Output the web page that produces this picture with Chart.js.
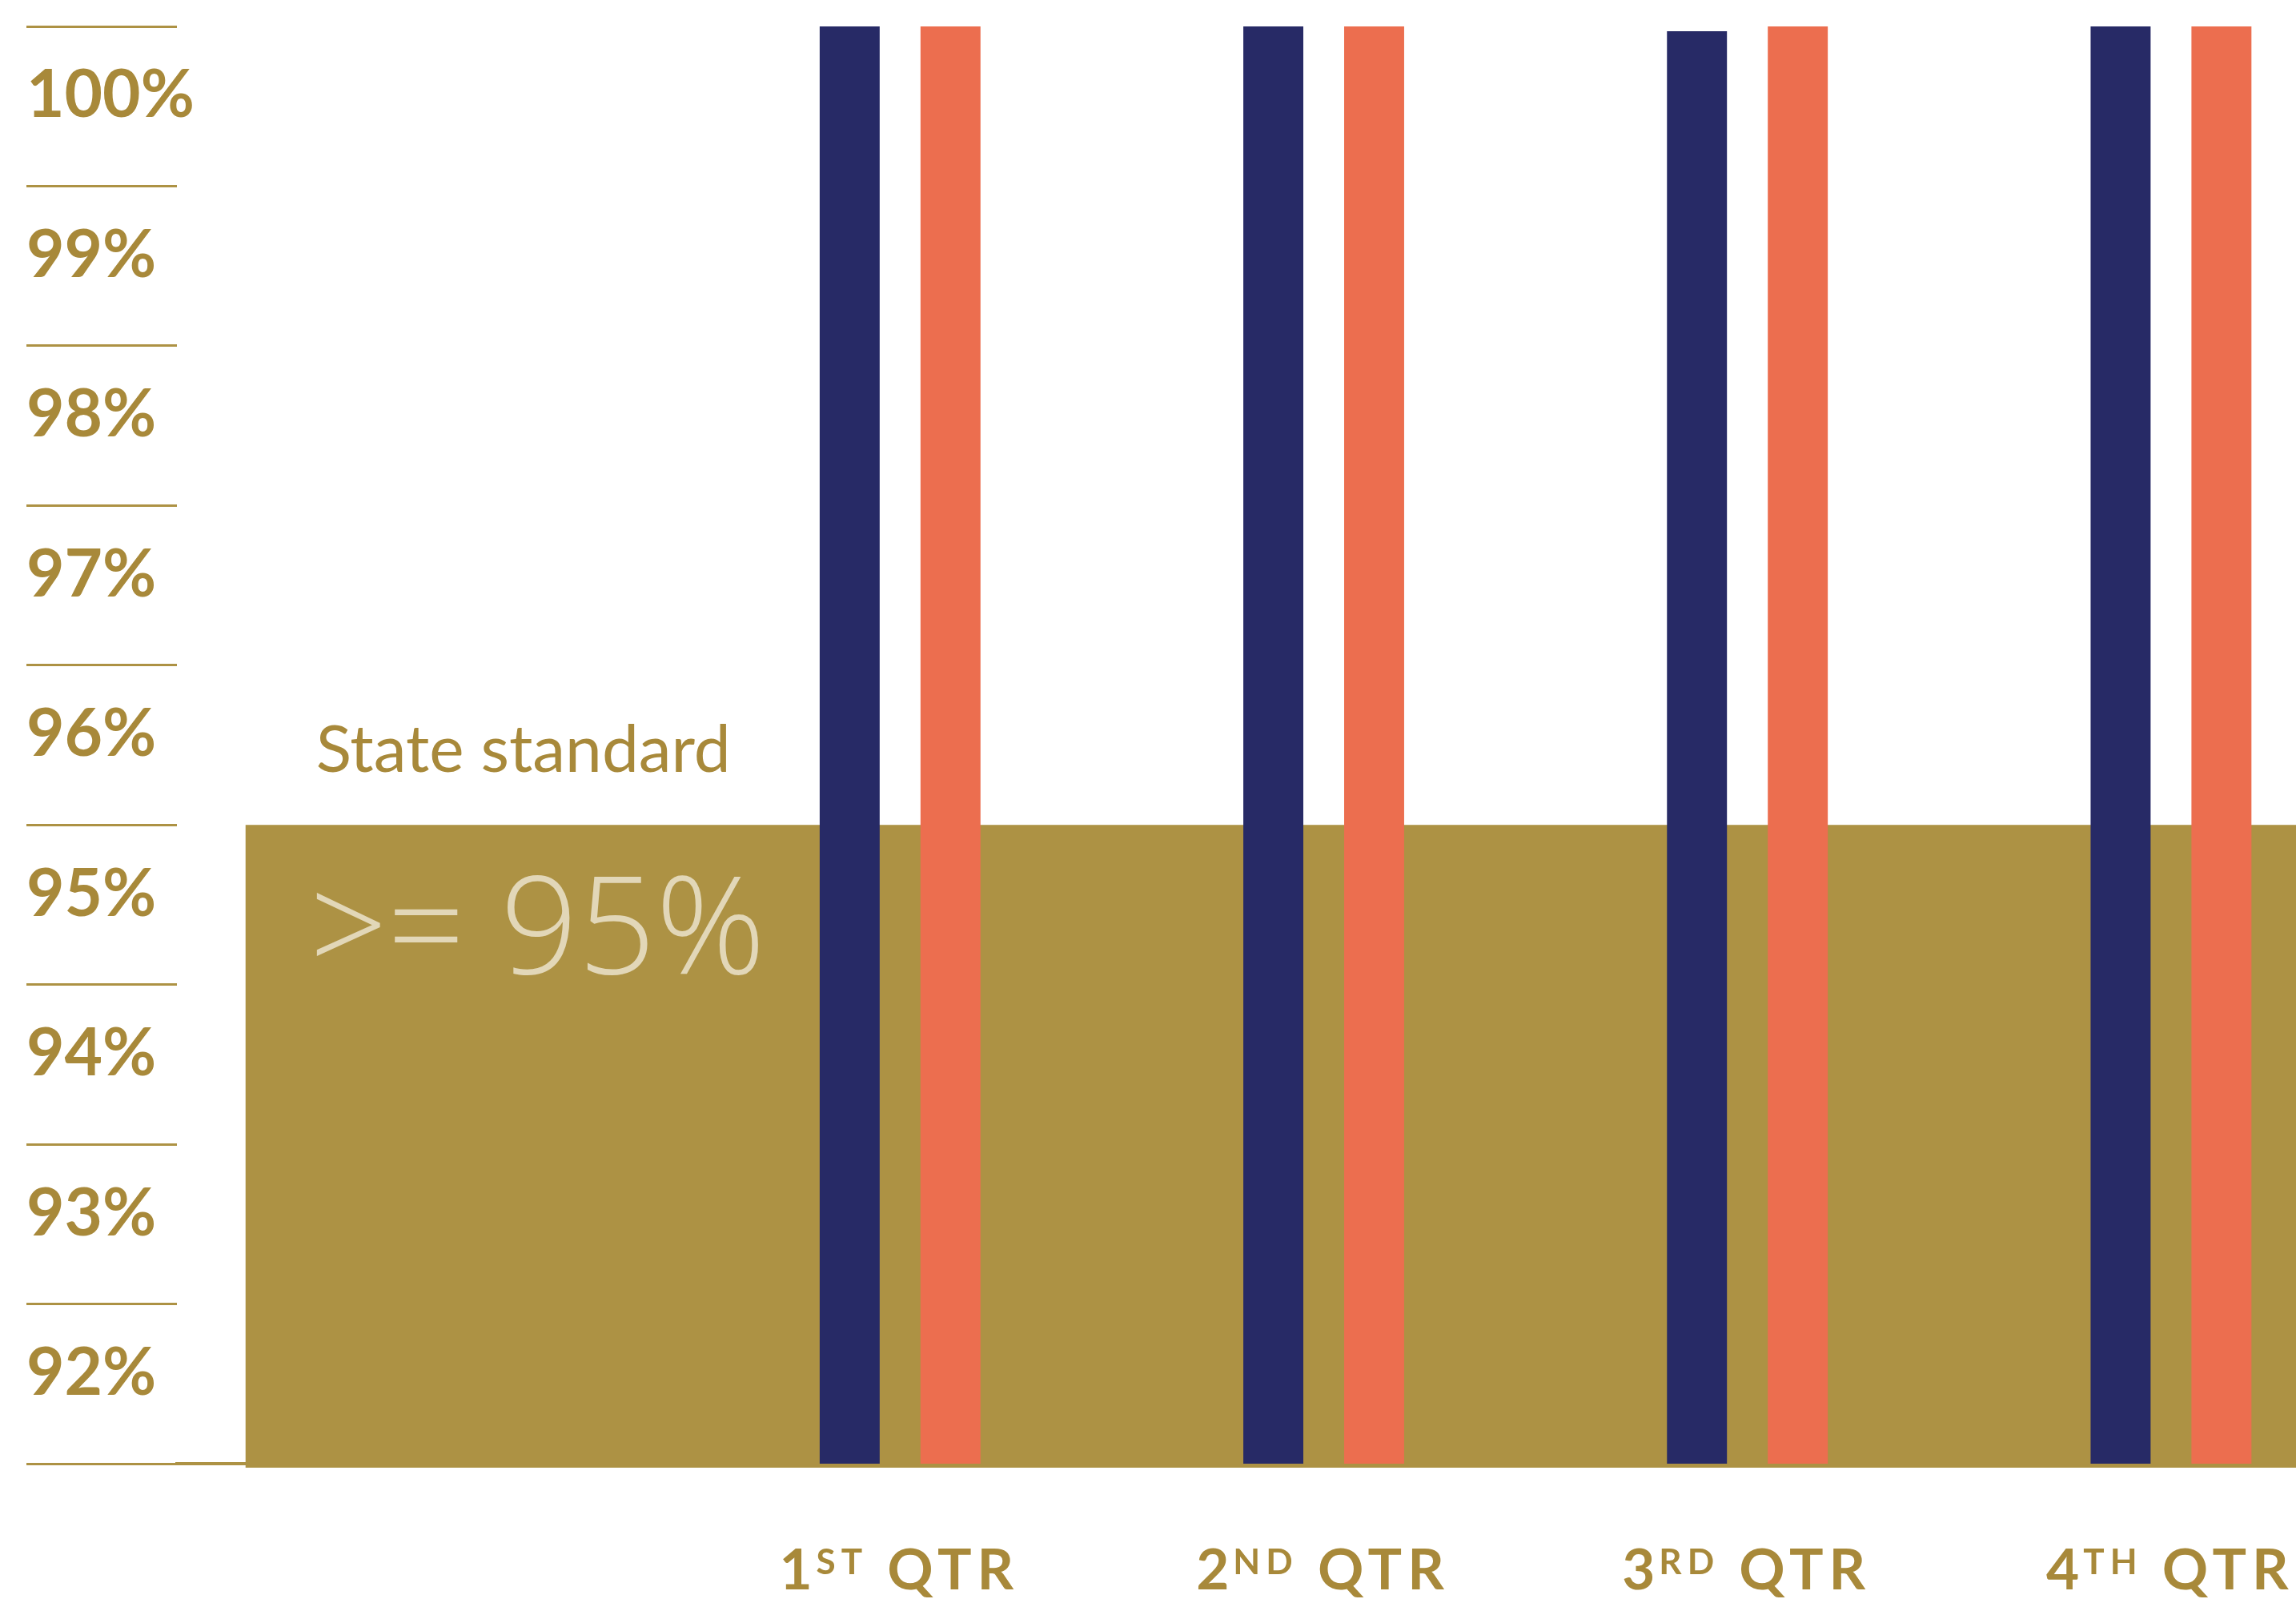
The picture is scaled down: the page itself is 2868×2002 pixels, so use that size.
<!DOCTYPE html>
<html>
<head>
<meta charset="utf-8">
<title>Quarterly results vs state standard</title>
<script src="https://cdn.jsdelivr.net/npm/chart.js@4.4.1/dist/chart.umd.min.js"></script>
<style>
  html, body { margin: 0; padding: 0; background: #fff; overflow: hidden; }
  #wrap { width: 2868px; height: 2002px; position: relative; }
</style>
</head>
<body>
<div id="wrap"><canvas id="chart"></canvas></div>
<script>
// data
const quarterNumbers = ["1", "2", "3", "4"];
const quarterSuffixes = ["ST", "ND", "RD", "TH"];
const quarterWord = "QTR";
const seriesNavy = [100, 100, 99.97, 100];
const seriesOrange = [100, 100, 100, 100];
const stateStandard = 95;
const standardLabel = "State standard";
const standardValueLabel = ">= 95%";

const gold = "#ad9244";
const textGold = "#a8893a";
const navy = "#272a66";
const orange = "#ec6e4f";
const lightText = "#e2d7b8";

const toPoints = (values) => values.map((v, i) => ({ x: i + 1, y: v }));

// gold block for the state standard, with its captions
const standardBox = {
  id: "standardBox",
  beforeDatasetsDraw(chart) {
    const { ctx, chartArea, scales: { x, y } } = chart;
    const left = x.getPixelForValue(-0.545);
    const top = y.getPixelForValue(stateStandard);
    const bottom = y.getPixelForValue(y.min) + 5;
    ctx.save();
    ctx.fillStyle = gold;
    ctx.fillRect(left, top, chartArea.right - left, bottom - top);
    ctx.textBaseline = "alphabetic";
    ctx.textAlign = "left";
    ctx.font = "400 82px Lato";
    ctx.fillStyle = textGold;
    ctx.fillText(standardLabel, left + 88, top - 66);
    ctx.font = "300 170px 'Open Sans'";
    ctx.fillStyle = lightText;
    ctx.fillText(standardValueLabel, left + 80, top + 186);
    ctx.restore();
  },
};

// x labels with the superscript suffix
const quarterLabels = {
  id: "quarterLabels",
  afterDraw(chart) {
    const { ctx, scales: { x } } = chart;
    const base = x.top + 157;
    const big = "700 71px Lato";
    const small = "700 44px Lato";
    ctx.save();
    ctx.fillStyle = textGold;
    ctx.textBaseline = "alphabetic";
    ctx.textAlign = "left";
    ctx.letterSpacing = "7px";
    quarterNumbers.forEach((num, i) => {
      const sup = quarterSuffixes[i];
      const rest = " " + quarterWord;
      ctx.font = big;
      const wNum = ctx.measureText(num).width;
      const wRest = ctx.measureText(rest).width;
      ctx.font = small;
      const wSup = ctx.measureText(sup).width;
      let cx = x.getPixelForValue(i + 1) - (wNum + wSup + wRest) / 2;
      ctx.font = big;
      ctx.fillText(num, cx, base);
      cx += wNum - 2;
      ctx.font = small;
      ctx.fillText(sup, cx, base - 19);
      cx += wSup;
      ctx.font = big;
      ctx.fillText(rest, cx, base);
    });
    ctx.restore();
  },
};

const config = {
  type: "bar",
  data: {
    datasets: [
      {
        label: "Navy",
        data: toPoints(seriesNavy),
        backgroundColor: navy,
      },
      {
        label: "Orange",
        data: toPoints(seriesOrange),
        backgroundColor: orange,
      },
    ],
  },
  options: {
    responsive: true,
    maintainAspectRatio: false,
    animation: false,
    categoryPercentage: 0.476,
    barPercentage: 0.595,
    layout: { padding: { left: 33, top: 33, right: 0, bottom: 0 } },
    plugins: {
      legend: { display: false },
      tooltip: { enabled: false },
    },
    scales: {
      x: {
        type: "linear",
        position: "bottom",
        offset: false,
        min: -0.707,
        max: 4.295,
        grid: { display: false, offset: false },
        border: { display: true, color: gold, width: 4 },
        ticks: { display: false },
        afterBuildTicks: (scale) => {
          scale.ticks = quarterNumbers.map((_, i) => ({ value: i + 1 }));
        },
        afterFit: (scale) => {
          scale.height = 174;
          scale.paddingLeft = 0;
          scale.paddingRight = 0;
        },
      },
      y: {
        min: 91,
        max: 100,
        border: { display: false },
        grid: {
          drawOnChartArea: false,
          drawTicks: true,
          tickLength: 188,
          color: gold,
          lineWidth: 3,
        },
        ticks: {
          stepSize: 1,
          mirror: true,
          crossAlign: "near",
          padding: -188,
          labelOffset: 87,
          color: textGold,
          font: { family: "Lato", weight: "bold", size: 82 },
          callback: (v) => (v === 91 ? "" : v + "%"),
        },
        afterFit: (scale) => {
          scale.width = 188;
          scale.paddingTop = 0;
          scale.paddingBottom = 0;
        },
      },
    },
  },
  plugins: [standardBox, quarterLabels],
};

new Chart(document.getElementById("chart"), config);
</script>
</body>
</html>
